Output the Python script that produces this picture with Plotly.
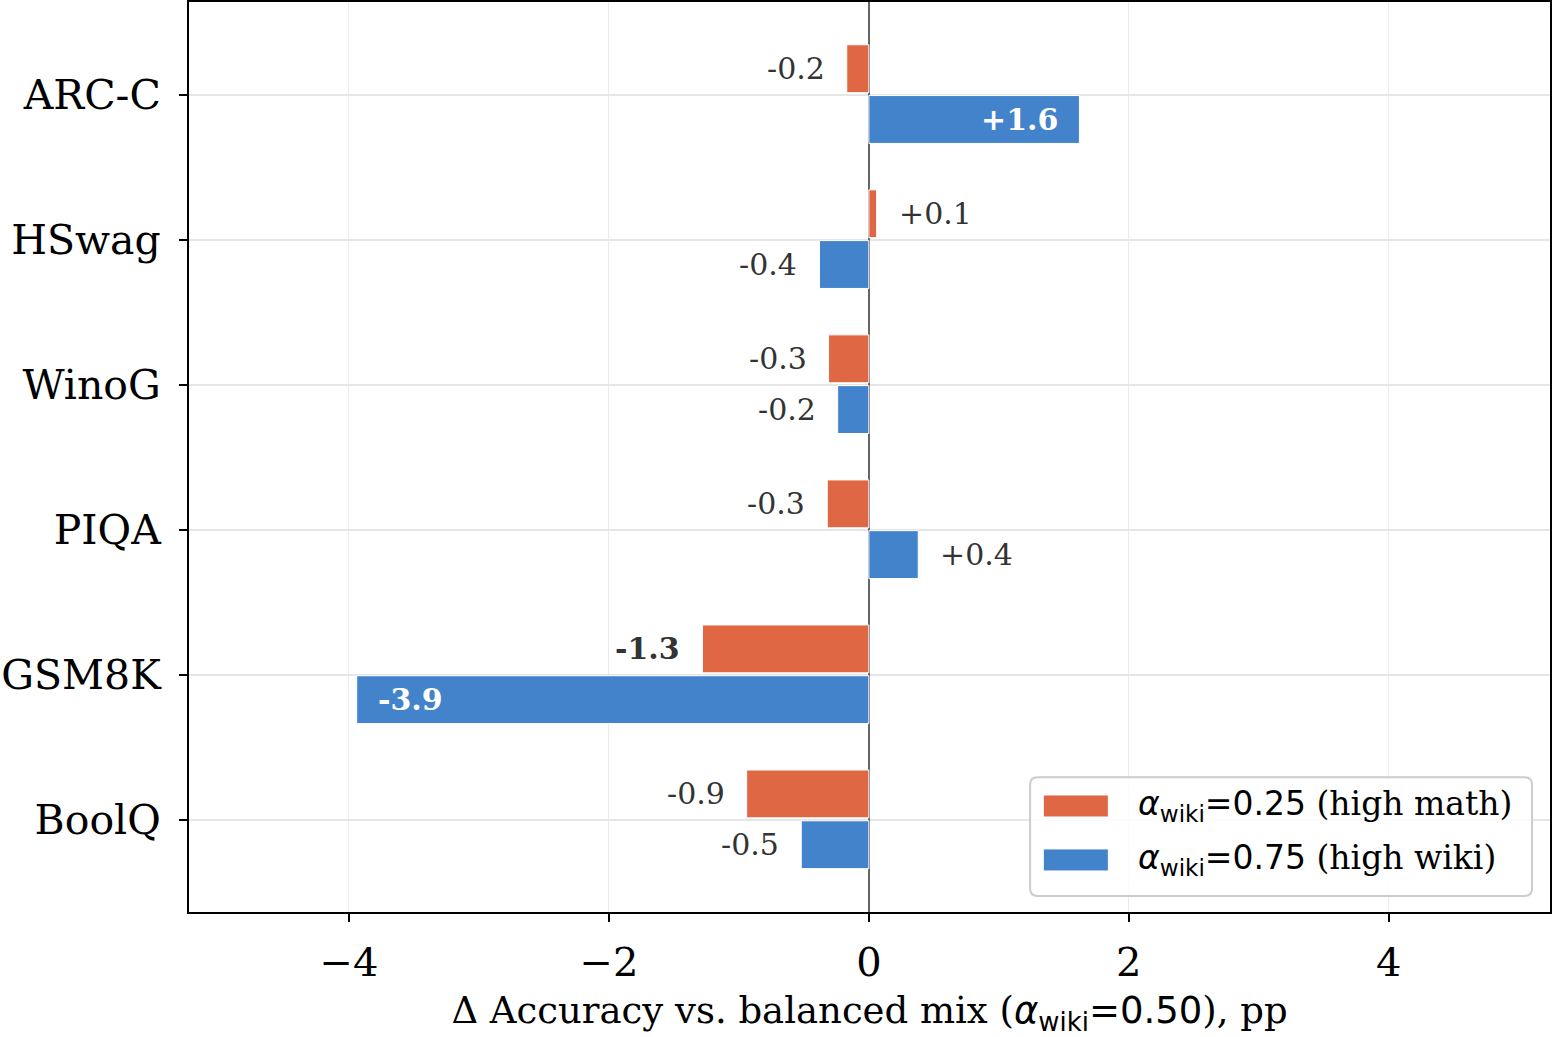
import plotly.graph_objects as go

categories = ["ARC-C", "HSwag", "WinoG", "PIQA", "GSM8K", "BoolQ"]
math_vals = [-0.17, 0.06, -0.31, -0.32, -1.28, -0.94]
wiki_vals = [1.62, -0.38, -0.24, 0.38, -3.94, -0.52]
series_names = ["α<sub>wiki</sub>=0.25 (high math)", "α<sub>wiki</sub>=0.75 (high wiki)"]
legend_labels = [
    "<span style='font-family:DejaVu Sans'><i>α</i><sub>wiki</sub>=0.25</span> (high math)",
    "<span style='font-family:DejaVu Sans'><i>α</i><sub>wiki</sub>=0.75</span> (high wiki)",
]
x_ticks = [-4, -2, 0, 2, 4]
x_tick_text = ["−4", "−2", "0", "2", "4"]

ORANGE = "#E06743"
BLUE = "#4383CC"
SERIF = "DejaVu Serif"
SANS = "DejaVu Sans"

BAR_W = 0.33
fig = go.Figure()
fig.add_trace(go.Bar(y=categories, x=math_vals, orientation="h", name=series_names[0],
                     marker=dict(color=ORANGE, line=dict(color="white", width=1)),
                     width=BAR_W, offset=-BAR_W - 0.015, showlegend=False))
fig.add_trace(go.Bar(y=categories, x=wiki_vals, orientation="h", name=series_names[1],
                     marker=dict(color=BLUE, line=dict(color="white", width=1)),
                     width=BAR_W, offset=0.005, showlegend=False))

annotations = []
for vals, off in ((math_vals, -(BAR_W / 2 + 0.015)), (wiki_vals, BAR_W / 2 + 0.005)):
    for i, v in enumerate(vals):
        txt = f"{v:+.1f}" if v > 0 else f"{v:.1f}"
        big = abs(v) >= 1.0
        inside = abs(v) >= 1.5
        if inside:
            xanchor = "right" if v > 0 else "left"
            xshift = -19 if v > 0 else 19
            color = "white"
        else:
            xanchor = "left" if v > 0 else "right"
            xshift = 20 if v > 0 else -20
            color = "#333333"
        label = f"<b>{txt}</b>" if big else txt
        annotations.append(dict(x=v, y=i + off, xref="x", yref="y", text=label,
                                showarrow=False, xanchor=xanchor, yanchor="middle",
                                xshift=xshift, font=dict(family=SERIF, size=30, color=color)))

# custom legend (rounded box)
lx0, lx1, ly0, ly1 = 0.618, 0.9868, 0.0176, 0.148
rx, ry = 0.0055, 0.0082
box_path = (f"M {lx0+rx},{ly0} L {lx1-rx},{ly0} Q {lx1},{ly0} {lx1},{ly0+ry} "
            f"L {lx1},{ly1-ry} Q {lx1},{ly1} {lx1-rx},{ly1} L {lx0+rx},{ly1} "
            f"Q {lx0},{ly1} {lx0},{ly1-ry} L {lx0},{ly0+ry} Q {lx0},{ly0} {lx0+rx},{ly0} Z")
shapes = [dict(type="path", xref="paper", yref="paper", path=box_path,
               line=dict(color="#cccccc", width=2), fillcolor="rgba(255,255,255,0.85)", layer="above")]
for k, (col, lab) in enumerate(((ORANGE, legend_labels[0]), (BLUE, legend_labels[1]))):
    yc = 0.1165 - k * 0.0593
    shapes.append(dict(type="rect", xref="paper", yref="paper", x0=0.6277, x1=0.6755,
                       y0=yc - 0.0121, y1=yc + 0.0121, fillcolor=col,
                       line=dict(color="white", width=1), layer="above"))
    annotations.append(dict(x=0.6957, y=yc, xref="paper", yref="paper", text=lab, showarrow=False,
                            xanchor="left", yanchor="middle", font=dict(family=SERIF, size=33, color="black")))

fig.update_layout(
    width=1552, height=1037,
    margin=dict(l=189, r=2, t=2, b=125),
    plot_bgcolor="white", paper_bgcolor="white",
    barmode="overlay",
    annotations=annotations, shapes=shapes,
    xaxis=dict(range=[-5.23, 5.24], tickvals=x_ticks, ticktext=x_tick_text,
               tickfont=dict(family=SERIF, size=40, color="black"),
               showgrid=True, gridcolor="#ebebeb", gridwidth=1,
               zeroline=True, zerolinecolor="#666666", zerolinewidth=2,
               showline=True, mirror=True, linecolor="black", linewidth=2,
               ticks="outside", ticklen=8, tickwidth=2, tickcolor="black",
               ticklabelstandoff=6, automargin=False,
               title=dict(text="Δ Accuracy vs. balanced mix (<span style='font-family:DejaVu Sans'><i>α</i><sub>wiki</sub>=0.50</span>), pp",
                          font=dict(family=SERIF, size=37, color="black"), standoff=20)),
    yaxis=dict(categoryorder="array", categoryarray=categories, range=[5.634, -0.64],
               tickfont=dict(family=SERIF, size=41, color="black"),
               showgrid=True, gridcolor="#e6e6e6", gridwidth=2,
               showline=True, mirror=True, linecolor="black", linewidth=2,
               ticks="outside", ticklen=8, tickwidth=2, tickcolor="black",
               ticklabelstandoff=10, automargin=False),
)

fig.write_html("out.html")
